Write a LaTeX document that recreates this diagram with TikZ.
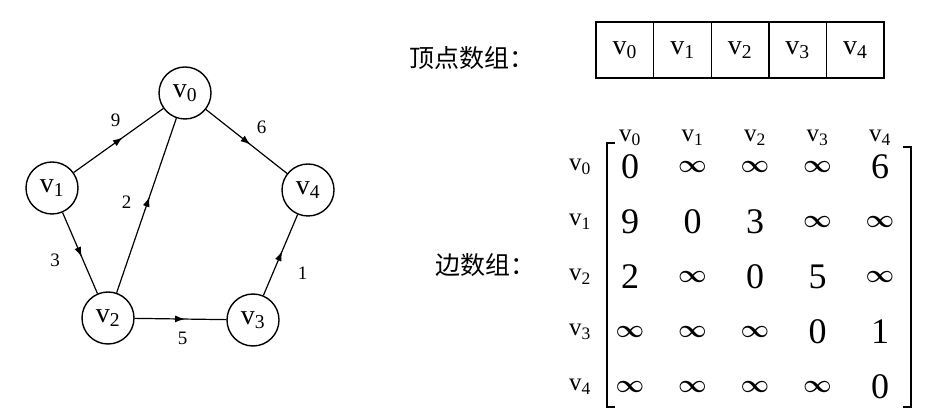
\documentclass[tikz,border=0pt]{standalone}
\usepackage{fontspec}
\setmainfont{Liberation Serif}
\newfontfamily\cjk{Noto Sans CJK SC}
\usetikzlibrary{arrows.meta,decorations.markings,matrix}
\newcommand{\vx}[1]{v\textsubscript{#1}}
\newcommand{\infsym}{{\fontsize{27}{27}\selectfont\boldmath$\infty$}}

\begin{document}
\begin{tikzpicture}[x=1pt,y=1pt,>=Latex,
  vert/.style={draw,circle,line width=1.4pt,minimum size=52pt,inner sep=0pt,font=\fontsize{28}{28}\selectfont},
  arc/.style={line width=1.2pt,postaction={decorate},
    decoration={markings,mark=at position 0.55 with {\arrow{Latex[length=10pt,width=7pt]}}}},
  wt/.style={font=\fontsize{19}{19}\selectfont},
  cellbox/.style={draw,line width=1.4pt,minimum width=57.6pt,minimum height=56pt,inner sep=0pt,font=\fontsize{28}{28}\selectfont},
  hd/.style={font=\fontsize{25}{25}\selectfont},
  zh/.style={font=\cjk\fontsize{25}{25}\selectfont}]
\useasboundingbox (0,0) rectangle (933,409);
\node[vert] (v0) at (185,316) {\vx{0}};
\node[vert] (v1) at (52,221) {\vx{1}};
\node[vert] (v2) at (108,91) {\vx{2}};
\node[vert] (v3) at (253,89) {\vx{3}};
\node[vert] (v4) at (308,219) {\vx{4}};
\draw[arc] (v1) -- node[wt,xshift=-3pt,yshift=20pt]{9} (v0);
\draw[arc] (v0) -- node[wt,xshift=15pt,yshift=14pt]{6} (v4);
\draw[arc] (v2) -- node[wt,xshift=-20pt,yshift=3pt]{2} (v0);
\draw[arc] (v1) -- node[wt,xshift=-25pt,yshift=-7pt]{3} (v2);
\draw[arc] (v2) -- node[wt,xshift=2pt,yshift=-19pt]{5} (v3);
\draw[arc] (v3) -- node[wt,xshift=22pt,yshift=-18pt]{1} (v4);

\node[zh] (vlbl) at (472,351) {顶点数组：};
\foreach \i in {0,...,4}
  \node[cellbox] (a\i) at ({624.8+57.6*\i},359) {\vx{\i}};

\node[zh] (elbl) at (485,144) {边数组：};
\matrix (adj) at (755,132) [matrix of nodes,column sep=0pt,row sep=0pt,
  nodes={font=\fontsize{36}{36}\selectfont,minimum width=62.5pt,minimum height=55pt,inner sep=0pt,anchor=center}] {
  0 & \infsym & \infsym & \infsym & 6 \\
  9 & 0 & 3 & \infsym & \infsym \\
  2 & \infsym & 0 & 5 & \infsym \\
  \infsym & \infsym & \infsym & 0 & 1 \\
  \infsym & \infsym & \infsym & \infsym & 0 \\
};
\foreach \i [evaluate=\i as \c using int(\i+1)] in {0,...,4} {
  \node[hd] (col\i) at (adj-1-\c |- 0,271) {\vx{\i}};
  \node[hd] (row\i) at (580,0 |- adj-\c-1) {\vx{\i}};
}
\draw[line width=1.5pt] (615,266) -- (607,266) -- (607,2) -- (615,2);
\draw[line width=1.5pt] (903,262) -- (911,262) -- (911,2) -- (903,2);
\end{tikzpicture}
\end{document}
